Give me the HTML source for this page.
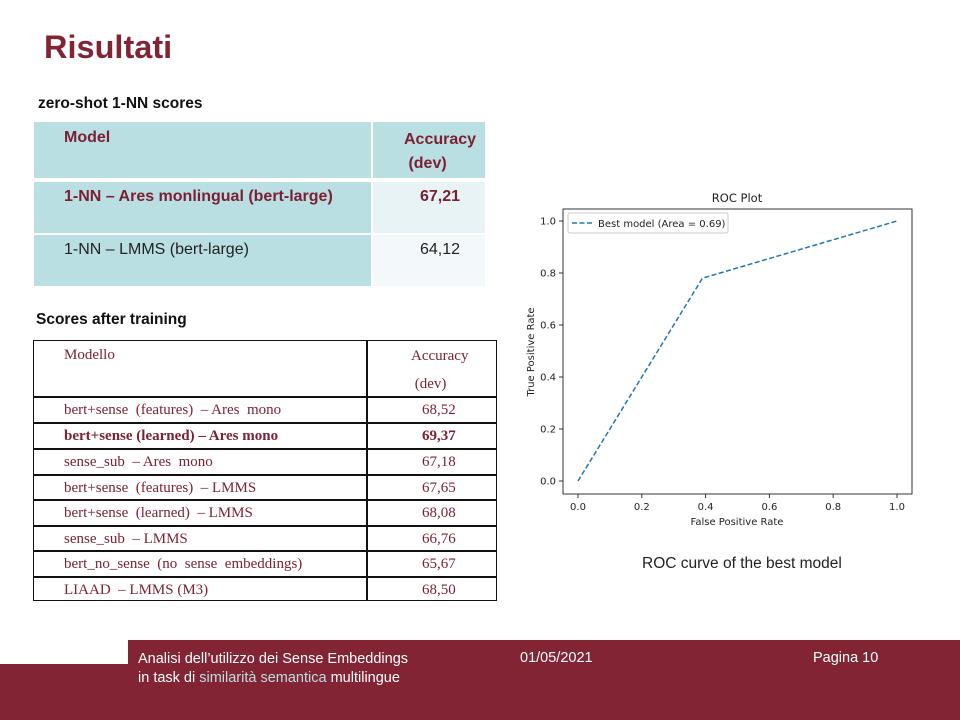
<!DOCTYPE html>
<html><head><meta charset="utf-8"><style>
body{margin:0;width:960px;height:720px;position:relative;background:#fff;font-family:"Liberation Sans",sans-serif;overflow:hidden}
.a{position:absolute}
.t1 div{position:absolute;box-sizing:border-box;font-size:16px;color:#7b1f32}
.t2 div{position:absolute;font-family:"Liberation Serif",serif;font-size:15px;color:#7b2333}
</style></head><body>
<div class="a" style="left:44px;top:29px;font-size:32.5px;font-weight:bold;color:#832434">Risultati</div>
<div class="a" style="left:38px;top:95px;font-size:15.5px;font-weight:bold;color:#111">zero-shot 1-NN scores</div>
<div class="t1">
<div style="left:34px;top:122px;width:337px;height:56px;background:#b9dfe3;padding:7px 0 0 30px;font-weight:bold">Model</div>
<div style="left:373px;top:122px;width:112px;height:56px;background:#b9dfe3;padding:6px 0 0 31px;font-weight:bold;line-height:24px">Accuracy<br>&nbsp;(dev)</div>
<div style="left:34px;top:182px;width:337px;height:51px;background:#b9dfe3;padding:6px 0 0 30px;font-weight:bold">1-NN – Ares monlingual (bert-large)</div>
<div style="left:373px;top:182px;width:112px;height:51px;background:#e8f3f5;padding:6px 0 0 47px;font-weight:bold">67,21</div>
<div style="left:34px;top:235px;width:337px;height:51px;background:#b9dfe3;padding:6px 0 0 30px;color:#222">1-NN – LMMS (bert-large)</div>
<div style="left:373px;top:235px;width:112px;height:51px;background:#f3f8fa;padding:6px 0 0 47px;color:#222">64,12</div>
</div>
<div class="a" style="left:36px;top:311px;font-size:15.5px;font-weight:bold;color:#111">Scores after training</div>
<div class="t2 a" style="left:0;top:0">
<div style="left:33px;top:340px;width:464px;height:261px;border:1.5px solid #111;box-sizing:border-box"></div>
<div style="left:366px;top:340px;width:1.5px;height:261px;background:#111"></div>
<div style="left:64px;top:347px">Modello</div>
<div style="left:411px;top:342px;line-height:28px">Accuracy<br>&nbsp;(dev)</div>
</div>
<div id="rows"></div>
<svg class="a" style="left:0;top:0" width="960" height="720" id="roc"></svg>
<div class="a" style="left:642px;top:555px;font-size:15.5px;color:#222">ROC curve of the best model</div>
<div class="a" style="left:128px;top:640px;width:832px;height:80px;background:#832434"></div>
<div class="a" style="left:0;top:664px;width:128px;height:56px;background:#832434"></div>
<div class="a" style="left:138px;top:650px;font-size:14.5px;color:#fff;line-height:19px">Analisi dell’utilizzo dei Sense Embeddings<br>in task di <span style="color:#b9dfe3">similarità semantica</span> multilingue</div>
<div class="a" style="left:520px;top:650px;font-size:14.5px;color:#fff">01/05/2021</div>
<div class="a" style="left:813px;top:650px;font-size:14.5px;color:#fff">Pagina 10</div>
<script>
const models=["bert+sense  (features)  – Ares  mono","bert+sense (learned) – Ares mono","sense_sub  – Ares  mono","bert+sense  (features)  – LMMS","bert+sense  (learned)  – LMMS","sense_sub  – LMMS","bert_no_sense  (no  sense  embeddings)","LIAAD  – LMMS (M3)"];
const scores=["68,52","69,37","67,18","67,65","68,08","66,76","65,67","68,50"];
const bold=[false,true,false,false,false,false,false,false];
const R=document.getElementById('rows');
const tops=[396,422,448,474,499,525,550,576,601];
models.forEach((m,i)=>{
 const y=tops[i];
 const l=document.createElement('div');
 
 
 l.style.cssText=`position:absolute;left:33px;top:${y}px;width:464px;height:1.5px;background:#111`;R.appendChild(l);
 const a=document.createElement('div');
 
 
 a.style.cssText=`position:absolute;left:64px;top:${y+6}px;font-family:"Liberation Serif",serif;font-size:15px;color:#7b2333;white-space:pre;font-weight:${bold[i]?'bold':'normal'}`;
 a.textContent=m;R.appendChild(a);
 const b=document.createElement('div');
 
 
 b.style.cssText=`position:absolute;left:422px;top:${y+6}px;font-family:"Liberation Serif",serif;font-size:15px;color:#7b2333;font-weight:${bold[i]?'bold':'normal'}`;
 b.textContent=scores[i];R.appendChild(b);
});
const fpr=[0,0.39,1];
const tpr=[0,0.78,1];
const ticks=[0,0.2,0.4,0.6,0.8,1.0];
const tickLabels=["0.0","0.2","0.4","0.6","0.8","1.0"];
const sx=v=>578+v*319, sy=v=>481-v*260;
const S=document.getElementById('roc');const NS='http://www.w3.org/2000/svg';
function el(t,at,name,txt){const e=document.createElementNS(NS,t);for(const k in at)e.setAttribute(k,at[k]);
 
 
 if(txt)e.textContent=txt;S.appendChild(e);return e;}
el('rect',{x:563,y:209,width:349,height:285,fill:'none',stroke:'#333','stroke-width':1},'plot-frame');
ticks.forEach((t,i)=>{
 el('line',{x1:sx(t),x2:sx(t),y1:494,y2:498,stroke:'#333'},'x-tick');
 el('text',{x:sx(t),y:510,'font-size':10,'text-anchor':'middle',fill:'#222','font-family':'DejaVu Sans'},'x-tick-label',tickLabels[i]);
 el('line',{x1:559,x2:563,y1:sy(t),y2:sy(t),stroke:'#333'},'y-tick');
 el('text',{x:556,y:sy(t)+3.5,'font-size':10,'text-anchor':'end',fill:'#222','font-family':'DejaVu Sans'},'y-tick-label',tickLabels[i]);
});
el('polyline',{points:fpr.map((f,i)=>sx(f)+','+sy(tpr[i])).join(' '),fill:'none',stroke:'#1f77b4','stroke-width':1.5,'stroke-dasharray':'5,2.5'},'roc-line');
el('text',{x:737,y:202,'font-size':11.5,'text-anchor':'middle',fill:'#222','font-family':'DejaVu Sans'},'chart-title','ROC Plot');
el('text',{x:737,y:525,'font-size':10,'text-anchor':'middle',fill:'#222','font-family':'DejaVu Sans'},'x-axis-title','False Positive Rate');
el('text',{x:534,y:352,'font-size':10,'text-anchor':'middle',fill:'#222','font-family':'DejaVu Sans',transform:'rotate(-90 534 352)'},'y-axis-title','True Positive Rate');
el('rect',{x:568,y:213,width:160,height:20,rx:2,fill:'#fff',stroke:'#ccc'},'legend-box');
el('line',{x1:572,x2:592,y1:223,y2:223,stroke:'#1f77b4','stroke-width':1.5,'stroke-dasharray':'5,2.5'},'legend-line');
el('text',{x:598,y:227,'font-size':10,fill:'#222','font-family':'DejaVu Sans'},'legend-entry','Best model (Area = 0.69)');
</script>
</body></html>
